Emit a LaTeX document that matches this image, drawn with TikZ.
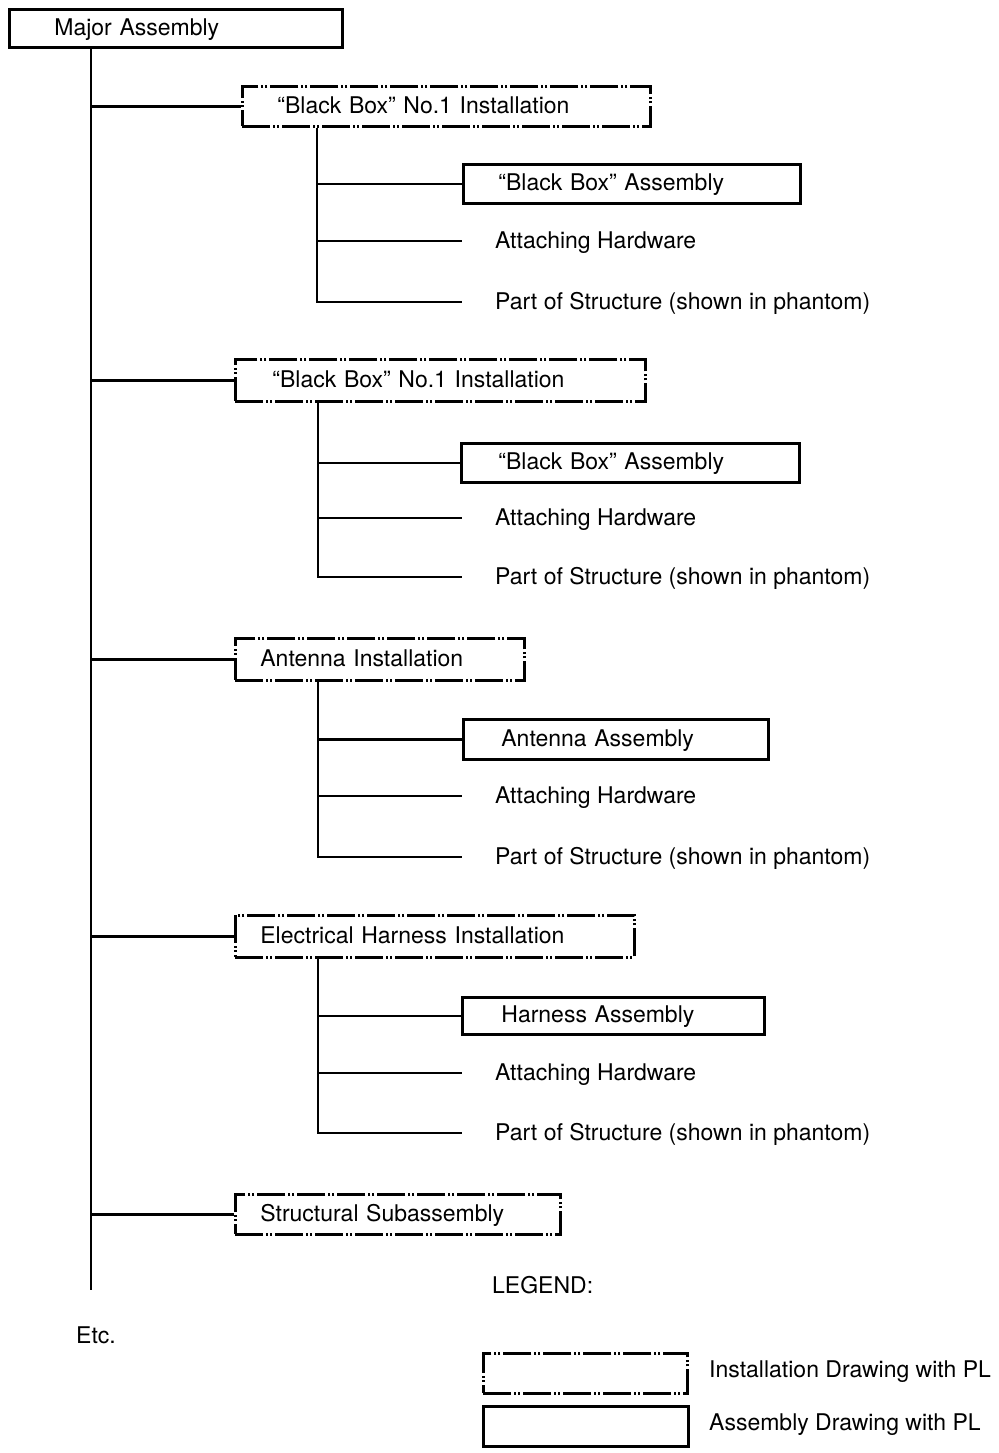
\documentclass[tikz,border=0pt]{standalone}
\usepackage{fontspec}
\setmainfont{TeX Gyre Heros}
\usetikzlibrary{calc}

\begin{document}
\begin{tikzpicture}[x=0.5pt,y=-0.5pt,line width=1.2pt,
  font=\fontsize{11.5}{13}\selectfont,
  inst/.style={draw,line width=1.4pt,dash pattern=on 14pt off 1.5pt on 1pt off 1pt on 1pt off 1.5pt,anchor=north west,align=left,inner ysep=0pt,text height=9pt,text depth=2pt},
  asm/.style={draw,line width=1.4pt,anchor=north west,align=left,inner ysep=0pt,text height=9pt,text depth=2pt},
  item/.style={anchor=west,inner xsep=16pt,inner ysep=0pt,text height=9pt,text depth=2pt}]
\useasboundingbox (0,0) rectangle (998,1453);

\node (major) at (8,8) [asm,inner xsep=22.5pt,text width=121.5pt,minimum height=19pt] {Major Assembly};

\node (inst1) at (241,85) [inst,inner xsep=17.5pt,text width=169pt,minimum height=20pt] {“Black Box” No.1 Installation};
\node (asm1) at (462,163) [asm,inner xsep=17.5pt,text width=133.5pt,minimum height=19.5pt] {“Black Box” Assembly};
\node (att1) at (462,241) [item] {Attaching Hardware};
\node (part1) at (462,302) [item] {Part of Structure (shown in phantom)};

\node (inst2) at (234,358) [inst,inner xsep=18.5pt,text width=168pt,minimum height=21pt] {“Black Box” No.1 Installation};
\node (asm2) at (460,442) [asm,inner xsep=18.5pt,text width=132pt,minimum height=19.5pt] {“Black Box” Assembly};
\node (att2) at (462,518) [item] {Attaching Hardware};
\node (part2) at (462,577) [item] {Part of Structure (shown in phantom)};

\node (inst3) at (234,637) [inst,inner xsep=12.5pt,text width=119.5pt,minimum height=21pt] {Antenna Installation};
\node (asm3) at (462,718) [asm,inner xsep=19pt,text width=114.5pt,minimum height=20pt] {Antenna Assembly};
\node (att3) at (462,796) [item] {Attaching Hardware};
\node (part3) at (462,857) [item] {Part of Structure (shown in phantom)};

\node (inst4) at (234,914) [inst,inner xsep=12.5pt,text width=174.5pt,minimum height=21pt] {Electrical Harness Installation};
\node (asm4) at (461,996) [asm,inner xsep=19.5pt,text width=112pt,minimum height=18.5pt] {Harness Assembly};
\node (att4) at (462,1073) [item] {Attaching Hardware};
\node (part4) at (462,1133) [item] {Part of Structure (shown in phantom)};

\node (inst5) at (234,1193) [inst,inner xsep=12.5pt,text width=137.5pt,minimum height=20pt] {Structural Subassembly};

\node (etc) at (75,1335) [anchor=west,inner sep=0pt] {Etc.};

% legend
\node (legend) at (491,1285) [anchor=west,inner sep=0pt] {LEGEND:};
\node (leginst) at (482,1352) [inst,inner sep=0pt,minimum width=102pt,minimum height=20pt] {};
\node (legasm) at (482,1405) [asm,inner sep=0pt,minimum width=102.5pt,minimum height=20pt] {};
\node (leginsttxt) at (708,1372) [anchor=west,inner sep=0pt] {Installation Drawing with PL};
\node (legasmtxt) at (708,1425) [anchor=west,inner sep=0pt] {Assembly Drawing with PL};

% trunk
\coordinate (trunk) at (91,1290);
\draw (major.south -| trunk) -- (trunk);
\draw (inst1.west -| trunk) -- (inst1.west);
\draw (inst2.west -| trunk) -- (inst2.west);
\draw (inst3.west -| trunk) -- (inst3.west);
\draw (inst4.west -| trunk) -- (inst4.west);
\draw (inst5.west -| trunk) -- (inst5.west);

% branches
\coordinate (b1) at (317,0);
\coordinate (b2) at (318,0);
\draw (inst1.south -| b1) |- (part1.west);
\draw (asm1.west -| b1) -- (asm1.west);
\draw (att1.west -| b1) -- (att1.west);
\draw (inst2.south -| b2) |- (part2.west);
\draw (asm2.west -| b2) -- (asm2.west);
\draw (att2.west -| b2) -- (att2.west);
\draw (inst3.south -| b2) |- (part3.west);
\draw (asm3.west -| b2) -- (asm3.west);
\draw (att3.west -| b2) -- (att3.west);
\draw (inst4.south -| b2) |- (part4.west);
\draw (asm4.west -| b2) -- (asm4.west);
\draw (att4.west -| b2) -- (att4.west);
\end{tikzpicture}
\end{document}
